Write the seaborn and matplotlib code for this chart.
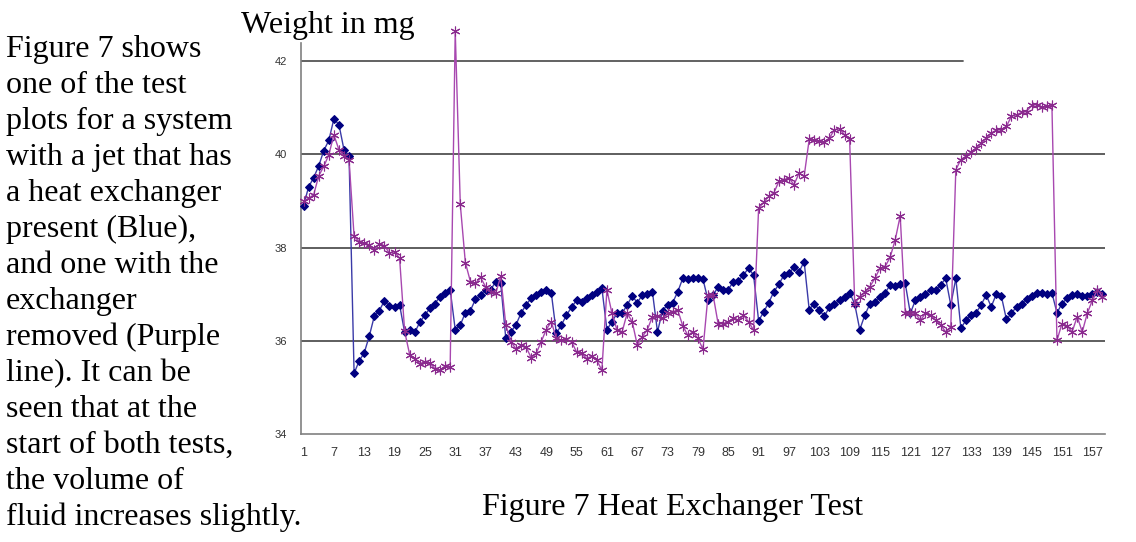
import numpy as np
import pandas as pd
import matplotlib
matplotlib.use("Agg")
import matplotlib.pyplot as plt
import seaborn as sns

# Weight readings (mg) for the two test runs, one value per sample
blue = [38.9, 39.3, 39.5, 39.75, 40.08, 40.3, 40.76, 40.64, 40.1, 39.97,
        35.3, 35.57, 35.74, 36.1, 36.53, 36.65, 36.86, 36.74, 36.73, 36.77,
        36.18, 36.24, 36.18, 36.4, 36.55, 36.7, 36.8, 36.95, 37.02, 37.1,
        36.24, 36.34, 36.6, 36.65, 36.89, 36.98, 37.1, 37.09, 37.27, 37.23,
        36.05, 36.19, 36.34, 36.59, 36.77, 36.91, 36.98, 37.05, 37.08, 37.03,
        36.16, 36.34, 36.55, 36.72, 36.87, 36.84, 36.91, 36.98, 37.05, 37.13,
        36.24, 36.41, 36.59, 36.59, 36.77, 36.96, 36.82, 36.98, 37.0, 37.05,
        36.19, 36.65, 36.77, 36.82, 37.05, 37.34, 37.32, 37.34, 37.34, 37.32,
        36.87, 36.98, 37.16, 37.1, 37.1, 37.27, 37.29, 37.41, 37.56, 37.41,
        36.43, 36.62, 36.82, 37.05, 37.21, 37.41, 37.45, 37.58, 37.48, 37.7,
        36.67, 36.8, 36.66, 36.53, 36.72, 36.79, 36.87, 36.95, 37.03, 36.79,
        36.24, 36.55, 36.79, 36.84, 36.95, 37.02, 37.2, 37.18, 37.22, 37.23,
        36.59, 36.87, 36.95, 37.0, 37.1, 37.09, 37.2, 37.34, 36.77, 37.34,
        36.27, 36.44, 36.56, 36.6, 36.77, 36.98, 36.73, 37.0, 36.96, 36.46,
        36.59, 36.73, 36.8, 36.89, 36.96, 37.03, 37.02, 37.0, 37.03, 36.6,
        36.8, 36.91, 36.98, 37.0, 36.96, 36.96, 37.0, 37.05, 37.0]

purple = [38.99, 39.06, 39.13, 39.54, 39.74, 39.99, 40.42, 40.1, 39.96, 39.89,
          38.24, 38.13, 38.09, 38.06, 37.95, 38.08, 38.04, 37.88, 37.91, 37.77,
          36.2, 35.7, 35.62, 35.51, 35.55, 35.52, 35.4, 35.37, 35.46, 35.44,
          42.65, 38.93, 37.68, 37.27, 37.23, 37.36, 37.16, 37.05, 37.02, 37.38,
          36.34, 35.98, 35.83, 35.9, 35.87, 35.64, 35.73, 35.98, 36.24, 36.41,
          36.05, 36.01, 36.03, 35.98, 35.76, 35.73, 35.62, 35.67, 35.58, 35.37,
          37.09, 36.59, 36.23, 36.19, 36.59, 36.41, 35.91, 36.09, 36.24, 36.52,
          36.53, 36.48, 36.59, 36.62, 36.66, 36.32, 36.12, 36.19, 36.05, 35.82,
          36.98, 36.98, 36.36, 36.37, 36.41, 36.48, 36.44, 36.55, 36.41, 36.23,
          38.85, 38.97, 39.1, 39.17, 39.42, 39.46, 39.49, 39.35, 39.6, 39.53,
          40.32, 40.3, 40.28, 40.26, 40.35, 40.53, 40.55, 40.42, 40.32, 36.8,
          36.95, 37.05, 37.16, 37.34, 37.56, 37.59, 37.79, 38.16, 38.68, 36.6,
          36.59, 36.59, 36.44, 36.59, 36.55, 36.44, 36.34, 36.19, 36.3, 39.67,
          39.89, 39.96, 40.05, 40.14, 40.24, 40.35, 40.46, 40.52, 40.53, 40.6,
          40.82, 40.85, 40.9, 40.92, 41.05, 41.07, 41.02, 41.03, 41.07, 36.01,
          36.37, 36.32, 36.19, 36.52, 36.19, 36.59, 36.87, 37.1, 36.95]

sample = list(range(1, len(blue) + 1))
x_labels = [str(s) for s in range(1, 158, 6)]
y_ticks = [34, 36, 38, 40, 42]

paragraph = ["Figure 7 shows", "one of the test", "plots for a system",
             "with a jet that has", "a heat exchanger", "present (Blue),",
             "and one with the", "exchanger", "removed (Purple",
             "line). It can be", "seen that at the", "start of both tests,",
             "the volume of", "fluid increases slightly."]

df = pd.DataFrame({"Sample": sample, "Blue": blue, "Purple": purple})

sns.set_style("white")
plt.rcParams["font.family"] = ["Liberation Sans", "DejaVu Sans"]

W, H = 1136, 542
fig = plt.figure(figsize=(W / 100, H / 100), dpi=100)
ax = fig.add_axes([301 / W, 1 - 434 / H, 804 / W, 391 / H])

# -----------------------------
# GRID LINES
# -----------------------------
for y in [36, 38, 40]:
    ax.axhline(y, color="#333333", lw=1.1, zorder=1)
ax.axhline(42, xmax=(963 - 301) / 804, color="#555555", lw=1.3, zorder=1)

# -----------------------------
# LINES
# -----------------------------
sns.lineplot(data=df, x="Sample", y="Blue", ax=ax, color="#3a3aa8", lw=1,
             marker="D", markersize=4.5, markerfacecolor="#000080",
             markeredgecolor="#000080", zorder=3, clip_on=False)
sns.lineplot(data=df, x="Sample", y="Purple", ax=ax, color="#a848b0", lw=1,
             marker=(6, 2, 0), markersize=7, markeredgecolor="#8a2a8e",
             markeredgewidth=0.8, zorder=4, clip_on=False)

ax.set_xlim(0.5, len(blue) + 0.5)
ax.set_ylim(34, 42.39)

# axes styling
for side in ["top", "right"]:
    ax.spines[side].set_visible(False)
for side in ["left", "bottom"]:
    ax.spines[side].set_color("#808080")
    ax.spines[side].set_linewidth(1.2)

ax.set_yticks(y_ticks)
ax.set_yticklabels([str(v) for v in y_ticks])
ax.tick_params(axis="y", direction="out", length=5, width=1, color="#808080",
               labelsize=8, labelcolor="#333333", pad=5)

ax.set_xticks(range(1, 158, 6))
ax.set_xticklabels(x_labels)
ax.set_xticks(np.arange(0.5, len(blue) + 1, 1), minor=True)
ax.tick_params(axis="x", which="major", length=0, labelsize=9,
               labelcolor="#333333", pad=9)
ax.tick_params(axis="x", which="minor", direction="out", length=4, width=0.8,
               color="#808080")
ax.set_xlabel("")
ax.set_ylabel("")

# -----------------------------
# SURROUNDING TEXT
# -----------------------------
serif = ["Liberation Serif", "DejaVu Serif"]
fig.text(241 / W, 1 - 33 / H, "Weight in mg", family=serif, fontsize=23,
         va="baseline", ha="left", color="black")
for k, line in enumerate(paragraph):
    fig.text(6 / W, 1 - (57 + 36 * k) / H, line, family=serif, fontsize=23,
             va="baseline", ha="left", color="black")
fig.text(673 / W, 1 - 515 / H, "Figure 7 Heat Exchanger Test", family=serif,
         fontsize=23, va="baseline", ha="center", color="black")

plt.savefig("out.png", dpi=100)
plt.close()
